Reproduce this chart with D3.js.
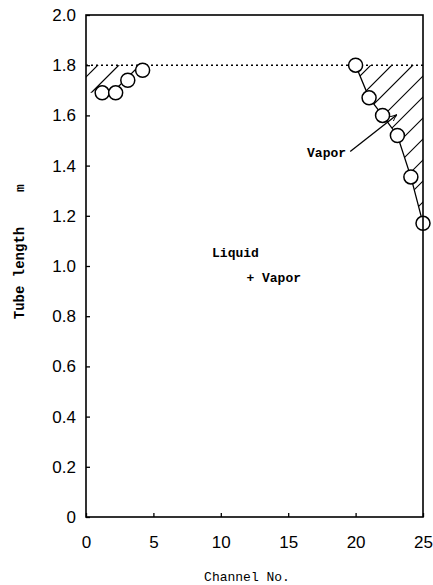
<!DOCTYPE html>
<html><head><meta charset="utf-8">
<script src="https://cdn.jsdelivr.net/npm/d3@7"></script>
<style>body{margin:0;background:#fff}</style>
</head><body><svg id="c" width="433" height="585"></svg>
<script>
// ---- data ----
const xTicks = [0, 5, 10, 15, 20, 25];
const xTickLabels = ["0", "5", "10", "15", "20", "25"];
const yTicks = [0, 0.2, 0.4, 0.6, 0.8, 1.0, 1.2, 1.4, 1.6, 1.8, 2.0];
const yTickLabels = ["0", "0.2", "0.4", "0.6", "0.8", "1.0", "1.2", "1.4", "1.6", "1.8", "2.0"];
const leftChannel = [1.2, 2.2, 3.1, 4.2];
const leftLength = [1.69, 1.69, 1.74, 1.78];
const rightChannel = [20, 21, 22, 23.1, 24.1, 25];
const rightLength = [1.80, 1.67, 1.60, 1.52, 1.355, 1.17];
const saturationLength = 1.8;
const leftWallBottom = 1.69;
const leftHatchEnd = 4.6;
const labels = [
  {text: "Liquid", x: 9.35, y: 1.052},
  {text: "+ Vapor", x: 11.9, y: 0.956},
  {text: "Vapor", x: 16.4, y: 1.454}
];
const arrowFrom = [19.6, 1.456];
const arrowTo = [23.0, 1.600];

// ---- layout ----
const svg = d3.select("#c");
const L = 86, R = 423, T = 15, B = 517;
const x = d3.scaleLinear().domain([0, 25]).range([L, R]);
const y = d3.scaleLinear().domain([0, 2.0]).range([B, T]);
const monoFont = "'Liberation Mono', 'DejaVu Sans Mono', monospace";
const sansFont = "'Liberation Sans', Arial, sans-serif";

const leftPts = leftChannel.map((c, i) => [c, leftLength[i]]);
const rightPts = rightChannel.map((c, i) => [c, rightLength[i]]);

// hatch regions
const leftPoly = [[0, saturationLength], [leftHatchEnd, saturationLength]]
  .concat(leftPts.slice().reverse()).concat([[0, leftWallBottom]]);
const rightPoly = [[rightChannel[0], saturationLength], [25, saturationLength]]
  .concat(rightPts.slice().reverse());

const defs = svg.append("defs");
[["clipL", leftPoly], ["clipR", rightPoly]].forEach(([id, poly]) => {
  defs.append("clipPath").attr("id", id).append("polygon")
    .attr("points", poly.map(p => [x(p[0]), y(p[1])].join(",")).join(" "));
});
defs.append("marker").attr("id", "arr").attr("viewBox", "0 0 10 10")
  .attr("refX", 8).attr("refY", 5).attr("markerWidth", 7).attr("markerHeight", 7)
  .attr("orient", "auto").attr("markerUnits", "userSpaceOnUse")
  .append("path").attr("d", "M0,1 Q5,4 10,5 Q5,6 0,9").attr("fill", "none")
  .attr("stroke", "#000").attr("stroke-width", 1.4);

const hatchStep = 21;
const hatchOffsets = d3.range(-500, 500, hatchStep);
["clipL", "clipR"].forEach(id => {
  const g = svg.append("g").attr("clip-path", `url(#${id})`);
  g.selectAll("line").data(hatchOffsets).join("line")
    .attr("x1", d => d).attr("y1", 600)
    .attr("x2", d => d + 600).attr("y2", 0)
    .attr("stroke", "#000").attr("stroke-width", 1.2);
});

// saturation dotted line
svg.append("line")
  .attr("x1", x(0)).attr("x2", x(25))
  .attr("y1", y(saturationLength)).attr("y2", y(saturationLength))
  .attr("stroke", "#000").attr("stroke-width", 1.5).attr("stroke-dasharray", "2,3");

// connecting line on right
svg.append("path").datum(rightPts)
  .attr("d", d3.line().x(d => x(d[0])).y(d => y(d[1])))
  .attr("fill", "none").attr("stroke", "#000").attr("stroke-width", 1.3);

// circles
svg.append("g").selectAll("circle").data(leftPts.concat(rightPts)).join("circle")
  .attr("cx", d => x(d[0])).attr("cy", d => y(d[1])).attr("r", 7)
  .attr("fill", "#fff").attr("stroke", "#000").attr("stroke-width", 1.5);

// axes
const xAxis = svg.append("g").attr("transform", `translate(0,${B})`)
  .call(d3.axisBottom(x).tickValues(xTicks).tickFormat((d, i) => xTickLabels[i]).tickSize(-4).tickPadding(19));
const yAxis = svg.append("g").attr("transform", `translate(${L},0)`)
  .call(d3.axisLeft(y).tickValues(yTicks).tickFormat((d, i) => yTickLabels[i]).tickSize(-4).tickPadding(10));
[xAxis, yAxis].forEach(a => {
  a.select(".domain").remove();
  a.selectAll("text").attr("font-family", sansFont).attr("font-size", 17).attr("fill", "#000");
  a.selectAll("line").attr("stroke", "#000").attr("stroke-width", 1.3);
});

// frame
svg.append("rect").attr("x", L).attr("y", T).attr("width", R - L).attr("height", B - T)
  .attr("fill", "none").attr("stroke", "#000").attr("stroke-width", 1.6);

// annotations
svg.append("g").selectAll("text").data(labels).join("text")
  .attr("x", d => x(d.x)).attr("y", d => y(d.y)).attr("dy", "0.35em")
  .attr("font-family", monoFont).attr("font-size", 13).attr("font-weight", "bold")
  .attr("fill", "#000").text(d => d.text);
svg.append("line")
  .attr("x1", x(arrowFrom[0])).attr("y1", y(arrowFrom[1]))
  .attr("x2", x(arrowTo[0])).attr("y2", y(arrowTo[1]))
  .attr("stroke", "#000").attr("stroke-width", 1.3).attr("marker-end", "url(#arr)");

// axis titles
svg.append("text").attr("x", 247).attr("y", 581)
  .attr("text-anchor", "middle").attr("font-family", monoFont).attr("font-size", 13)
  .attr("fill", "#000").text("Channel No.");
svg.append("text").attr("transform", "translate(24,273) rotate(-90)")
  .attr("text-anchor", "middle").attr("font-family", monoFont).attr("font-size", 14)
  .attr("font-weight", "bold").attr("fill", "#000").text("Tube length");
svg.append("text").attr("transform", "translate(24,188) rotate(-90)")
  .attr("text-anchor", "middle").attr("font-family", monoFont).attr("font-size", 13)
  .attr("font-weight", "bold").attr("fill", "#000").text("m");
</script></body></html>
